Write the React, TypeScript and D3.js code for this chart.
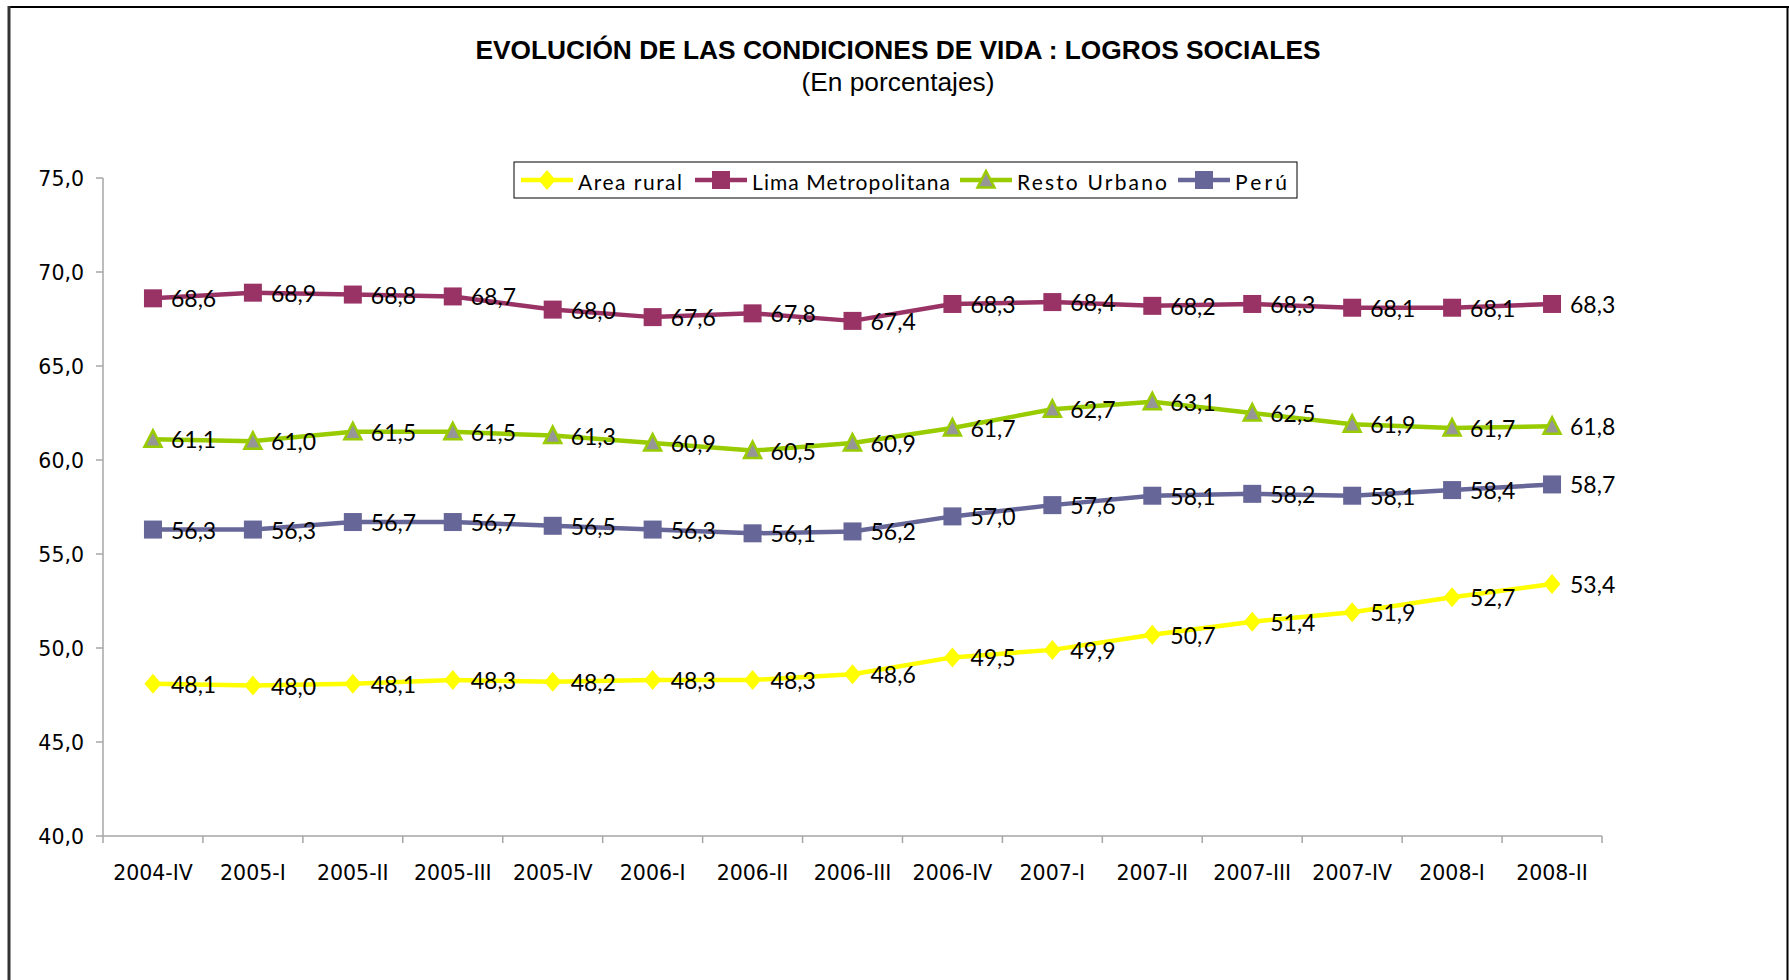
import React, { useEffect, useRef } from "react";
import * as d3 from "d3";

const periods = [
  "2004-IV", "2005-I", "2005-II", "2005-III", "2005-IV", "2006-I", "2006-II",
  "2006-III", "2006-IV", "2007-I", "2007-II", "2007-III", "2007-IV", "2008-I", "2008-II",
];

const areaRural = [48.1, 48.0, 48.1, 48.3, 48.2, 48.3, 48.3, 48.6, 49.5, 49.9, 50.7, 51.4, 51.9, 52.7, 53.4];
const limaMetro = [68.6, 68.9, 68.8, 68.7, 68.0, 67.6, 67.8, 67.4, 68.3, 68.4, 68.2, 68.3, 68.1, 68.1, 68.3];
const restoUrbano = [61.1, 61.0, 61.5, 61.5, 61.3, 60.9, 60.5, 60.9, 61.7, 62.7, 63.1, 62.5, 61.9, 61.7, 61.8];
const peru = [56.3, 56.3, 56.7, 56.7, 56.5, 56.3, 56.1, 56.2, 57.0, 57.6, 58.1, 58.2, 58.1, 58.4, 58.7];

const yTicks = [40, 45, 50, 55, 60, 65, 70, 75];

const series = [
  { name: "Area rural", values: areaRural, color: "#FFFF00", marker: "diamond", fill: "#FFFF00", legendW: 104 },
  { name: "Lima Metropolitana", values: limaMetro, color: "#993366", marker: "square", fill: "#993366", legendW: 198 },
  { name: "Resto Urbano", values: restoUrbano, color: "#99CC00", marker: "triangle", fill: "#969696", legendW: 150 },
  { name: "Perú", values: peru, color: "#666699", marker: "square", fill: "#666699", legendW: 52 },
];

const W = 1789;
const H = 980;
const margin = { left: 103, right: 1602, top: 178, bottom: 836 };

const drawMarker = (g, type, cx, cy, color, fill) => {
  if (type === "square") {
    g.append("rect")
      .attr("x", cx - 9)
      .attr("y", cy - 9)
      .attr("width", 18)
      .attr("height", 18)
      .attr("fill", fill);
  } else if (type === "diamond") {
    g.append("path")
      .attr("d", `M${cx},${cy - 10}L${cx + 8.5},${cy}L${cx},${cy + 10}L${cx - 8.5},${cy}Z`)
      .attr("fill", fill);
  } else {
    g.append("path")
      .attr("d", `M${cx},${cy - 9}L${cx + 8.5},${cy + 7.5}L${cx - 8.5},${cy + 7.5}Z`)
      .attr("fill", fill)
      .attr("stroke", color)
      .attr("stroke-width", 2.5)
      .attr("stroke-linejoin", "miter");
  }
};

const App = () => {
  const ref = useRef(null);

  useEffect(() => {
    const root = d3.select(ref.current);
    root.selectAll("*").remove();
    const svg = root
      .append("svg")
      .attr("width", W)
      .attr("height", H)
      .style("display", "block")
      .style("background", "#fff");

    // frame
    svg.append("line").attr("x1", 8).attr("x2", 1789).attr("y1", 7).attr("y2", 7)
      .attr("stroke", "#000").attr("stroke-width", 2);
    svg.append("line").attr("x1", 9).attr("x2", 9).attr("y1", 6).attr("y2", H)
      .attr("stroke", "#333").attr("stroke-width", 3);
    svg.append("line").attr("x1", 1787.5).attr("x2", 1787.5).attr("y1", 6).attr("y2", H)
      .attr("stroke", "#000").attr("stroke-width", 2);

    // titles
    svg.append("text")
      .attr("x", 898).attr("y", 59)
      .attr("text-anchor", "middle")
      .attr("font-family", "'Liberation Sans', Arial, sans-serif")
      .attr("font-weight", "bold")
      .attr("font-size", 26)
      .attr("textLength", 845)
      .attr("lengthAdjust", "spacingAndGlyphs")
      .text("EVOLUCIÓN DE LAS CONDICIONES DE VIDA : LOGROS SOCIALES");
    svg.append("text")
      .attr("x", 898).attr("y", 91)
      .attr("text-anchor", "middle")
      .attr("font-family", "'Liberation Sans', Arial, sans-serif")
      .attr("font-size", 25)
      .attr("textLength", 193)
      .attr("lengthAdjust", "spacingAndGlyphs")
      .text("(En porcentajes)");

    const x = d3.scaleBand().domain(periods).range([margin.left, margin.right]);
    const y = d3.scaleLinear().domain([40, 75]).range([margin.bottom, margin.top]);
    const cx = (i) => x(periods[i]) + x.bandwidth() / 2;

    // axes
    const axisColor = "#A6A6A6";
    svg.append("line").attr("x1", margin.left).attr("x2", margin.left)
      .attr("y1", margin.top).attr("y2", margin.bottom)
      .attr("stroke", axisColor).attr("stroke-width", 1.5);
    svg.append("line").attr("x1", margin.left).attr("x2", margin.right)
      .attr("y1", margin.bottom).attr("y2", margin.bottom)
      .attr("stroke", axisColor).attr("stroke-width", 1.5);

    yTicks.forEach((t) => {
      svg.append("line").attr("x1", margin.left - 7).attr("x2", margin.left)
        .attr("y1", y(t)).attr("y2", y(t))
        .attr("stroke", axisColor).attr("stroke-width", 1.5);
      svg.append("text")
        .attr("x", 84).attr("y", y(t) + 7.5)
        .attr("text-anchor", "end")
        .attr("font-family", "'DejaVu Sans', Verdana, sans-serif")
        .attr("font-size", 20.5)
        .attr("fill", "#000")
        .text(d3.format(".1f")(t).replace(".", ","));
    });

    const edges = periods.map((p) => x(p)).concat([margin.right]);
    edges.forEach((ex) => {
      svg.append("line").attr("x1", ex).attr("x2", ex)
        .attr("y1", margin.bottom).attr("y2", margin.bottom + 7)
        .attr("stroke", axisColor).attr("stroke-width", 1.5);
    });
    periods.forEach((p, i) => {
      svg.append("text")
        .attr("x", cx(i)).attr("y", 880)
        .attr("text-anchor", "middle")
        .attr("font-family", "'DejaVu Sans', Verdana, sans-serif")
        .attr("font-size", 20.5)
        .attr("fill", "#000")
        .text(p);
    });

    // lines + markers
    const line = d3.line().x((d, i) => cx(i)).y((d) => y(d));
    series.forEach((s) => {
      svg.append("path")
        .attr("d", line(s.values))
        .attr("fill", "none")
        .attr("stroke", s.color)
        .attr("stroke-width", 4.5)
        .attr("stroke-linejoin", "round");
      const mg = svg.append("g");
      s.values.forEach((v, i) => drawMarker(mg, s.marker, cx(i), y(v), s.color, s.fill));
    });

    // data labels
    series.forEach((s) => {
      s.values.forEach((v, i) => {
        svg.append("text")
          .attr("x", cx(i) + 18)
          .attr("y", y(v) + 9)
          .attr("font-family", "Lato, 'Open Sans', sans-serif")
          .attr("font-size", 23)
          .attr("fill", "#000")
          .text(d3.format(".1f")(v).replace(".", ","));
      });
    });

    // legend
    const lg = svg.append("g");
    lg.append("rect")
      .attr("x", 514).attr("y", 162)
      .attr("width", 783).attr("height", 36)
      .attr("fill", "#fff").attr("stroke", "#000").attr("stroke-width", 1);
    const legendStarts = [521, 695, 960, 1178];
    series.forEach((s, k) => {
      const lx = legendStarts[k];
      const ly = 180;
      lg.append("line").attr("x1", lx).attr("x2", lx + 52)
        .attr("y1", ly).attr("y2", ly)
        .attr("stroke", s.color).attr("stroke-width", 4.5);
      drawMarker(lg, s.marker, lx + 26, ly, s.color, s.fill);
      lg.append("text")
        .attr("x", lx + 57).attr("y", 190)
        .attr("font-family", "Lato, 'Open Sans', sans-serif")
        .attr("font-size", 21)
        .attr("textLength", s.legendW)
        .attr("lengthAdjust", "spacing")
        .text(s.name);
    });
  });

  return (
    <div style={{ position: "absolute", left: 0, top: 0 }}>
      <div ref={ref}></div>
    </div>
  );
};

export default App;
